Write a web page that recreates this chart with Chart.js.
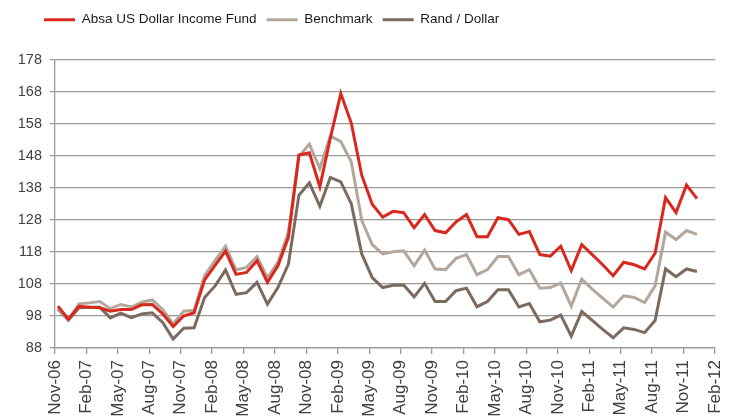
<!DOCTYPE html>
<html>
<head>
<meta charset="utf-8">
<script src="https://cdn.jsdelivr.net/npm/chart.js@4.4.1/dist/chart.umd.min.js"></script>
<style>
  html, body { margin: 0; padding: 0; background: #fff; overflow: hidden; }
  #wrap { width: 732px; height: 418px; }
</style>
</head>
<body>
<div id="wrap"><canvas id="chart" width="732" height="418"></canvas></div>
<script>
// x axis tick labels, one every 3 months (Nov-06 .. Feb-12)
const tickLabels = ['Nov-06', 'Feb-07', 'May-07', 'Aug-07', 'Nov-07', 'Feb-08', 'May-08', 'Aug-08',
  'Nov-08', 'Feb-09', 'May-09', 'Aug-09', 'Nov-09', 'Feb-10', 'May-10', 'Aug-10', 'Nov-10',
  'Feb-11', 'May-11', 'Aug-11', 'Nov-11', 'Feb-12'];

// monthly index values, Nov-06 .. Dec-11
const fund = [101.1, 97, 101, 100.7, 100.6, 99.5, 100, 100, 101.5, 101.6, 98.7, 94.7,
  98, 99, 109.3, 113.8, 118.3, 111, 111.6, 115.3, 108.5, 113.7, 122.6, 148.3,
  149, 138.4, 153.6, 167.5, 158.3, 142, 132.9, 128.9, 130.7, 130.3, 125.6, 129.7,
  124.7, 124, 127.4, 129.7, 122.8, 122.8, 128.7, 128.1, 123.5, 124.4, 117.2, 116.7,
  119.8, 112.2, 120.3, 117.2, 114, 110.6, 114.8, 114, 112.7, 117.6, 135, 130.3,
  138.9, 134.7];
const benchmark = [100.3, 96.8, 101.8, 102.1, 102.5, 100.3, 101.6, 100.8, 102.3, 103, 100, 95.5,
  99.5, 99.8, 110.6, 115.4, 119.8, 112.4, 113.2, 116.6, 110, 114.8, 124.2, 147.8,
  151.7, 144.1, 154.3, 152.5, 146.2, 127.9, 120.3, 117.4, 118.1, 118.4, 113.7, 118.6,
  112.7, 112.5, 116, 117.2, 110.9, 112.5, 116.6, 116.6, 110.9, 112.5, 106.7, 106.9,
  108.3, 101.1, 109.5, 106.4, 103.6, 100.8, 104.3, 103.8, 102.2, 107.4, 124.2, 121.9,
  124.7, 123.5];
const randDollar = [100.1, 96.7, 100.6, 100.7, 100.7, 97.4, 98.9, 97.5, 98.6, 99, 96, 90.8,
  94.2, 94.3, 103.8, 107.4, 112.4, 104.8, 105.3, 108.5, 101.7, 106.9, 114.2, 135.7,
  139.6, 132.3, 141.3, 139.9, 133.1, 117.4, 110, 106.9, 107.6, 107.7, 104, 108.2,
  102.5, 102.5, 105.9, 106.7, 100.9, 102.5, 106.2, 106.2, 100.8, 101.9, 96.2, 96.7,
  98.3, 91.7, 99.4, 96.6, 93.8, 91.2, 94.3, 93.8, 92.8, 96.6, 112.7, 110.3,
  112.7, 111.9];

// values are dated a little after the start of each month
const points = arr => arr.map((v, i) => ({ x: i + 0.28, y: v }));

Chart.defaults.font.family = "'Liberation Sans', Arial, sans-serif";
Chart.defaults.color = '#404040';

// legend: leave a gap under it and nudge it right, like the Excel original
const legendTweak = {
  id: 'legendTweak',
  beforeInit(chart) {
    const fit = chart.legend.fit;
    chart.legend.fit = function () {
      fit.bind(chart.legend)();
      this.height += 23.5;
    };
  },
  afterLayout(chart) {
    chart.legend.left += 34;
    chart.legend.right += 34;
  }
};

const line = (label, data, color) => ({
  label,
  data: points(data),
  borderColor: color,
  backgroundColor: color,
  borderWidth: 3,
  pointRadius: 0,
  tension: 0
});

new Chart(document.getElementById('chart'), {
  type: 'line',
  data: {
    datasets: [
      line('Absa US Dollar Income Fund', fund, '#d9281e'),
      line('Benchmark', benchmark, '#b3a79c'),
      line('Rand / Dollar', randDollar, '#7b6a5e')
    ]
  },
  options: {
    responsive: false,
    animation: false,
    layout: { padding: { left: 0, right: 17, top: 3, bottom: 0 } },
    plugins: {
      legend: {
        position: 'top',
        align: 'start',
        labels: {
          usePointStyle: true,
          pointStyle: 'line',
          pointStyleWidth: 31,
          padding: 10,
          color: '#1a1a1a',
          font: { size: 13.5 }
        }
      },
      tooltip: { enabled: false }
    },
    scales: {
      x: {
        type: 'linear',
        min: 0,
        max: 63,
        afterFit: s => { s.height = 70; s.paddingLeft = 0; s.paddingRight = 0; },
        grid: { drawOnChartArea: false, color: '#999', lineWidth: 1.3, tickLength: 6 },
        border: { color: '#999', width: 1.3 },
        ticks: {
          stepSize: 3,
          autoSkip: false,
          minRotation: 90,
          maxRotation: 90,
          padding: 6,
          font: { size: 17 },
          callback: v => tickLabels[v / 3]
        }
      },
      y: {
        min: 88,
        max: 178,
        afterFit: s => { s.width = 55; },
        grid: { color: '#999', lineWidth: 1.3, tickLength: 5 },
        border: { color: '#999', width: 1.3 },
        ticks: { stepSize: 10, padding: 8, font: { size: 14.5 } }
      }
    }
  },
  plugins: [legendTweak]
});
</script>
</body>
</html>
